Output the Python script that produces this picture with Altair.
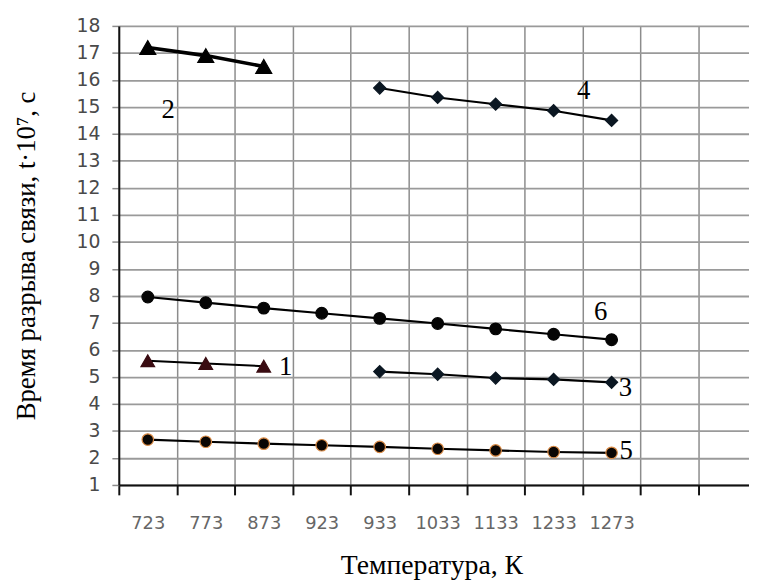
import altair as alt
import pandas as pd

# x categories (temperatures, K) and two empty bands at the right
temps = ["723", "773", "873", "923", "933", "1033", "1133", "1233", "1273"]
extra_bands = ["", ""]

# series values (t·10^7, s)
s1 = [5.6, 5.5, 5.4]                 # from 723
s2 = [17.2, 16.9, 16.5]              # from 723
s3 = [5.2, 5.1, 4.96, 4.91, 4.8]     # from 933
s4 = [15.7, 15.35, 15.1, 14.86, 14.5]  # from 933
s5 = [2.68, 2.6, 2.53, 2.47, 2.41, 2.34, 2.28, 2.22, 2.19]
s6 = [7.96, 7.75, 7.55, 7.36, 7.17, 6.98, 6.78, 6.58, 6.38]

series_names = ["1", "2", "3", "4", "5", "6"]
series_vals = [s1, s2, s3, s4, s5, s6]
series_start = [0, 0, 4, 4, 0, 0]

# curve labels (in data units)
label_text = ["1", "2", "3", "4", "5", "6"]
label_xi = [2.88, 0.85, 8.74, 8.02, 8.75, 8.31]
label_y = [5.38, 14.87, 4.58, 15.6, 2.27, 7.4]

# styles
shapes = ["triangle-up", "triangle-up", "diamond", "diamond", "circle", "circle"]
fills = ["#3a0c12", "#000000", "#0b1722", "#0b1722", "#0a0604", "#050505"]
strokes = ["#3a0c12", "#000000", "#0b1722", "#0b1722", "#d98a45", "#050505"]
msizes = [190, 260, 150, 150, 135, 140]
lwidths = [2, 3.6, 2.2, 2.2, 2.2, 2.2]

labels_all = temps + extra_bands
label_expr = "[" + ",".join("'" + t + "'" for t in labels_all) + "][datum.value]"

x_scale = alt.Scale(domain=[0, 10.87], nice=False, zero=False)
y_scale = alt.Scale(domain=[1, 18], nice=False, zero=False)

x_axis = alt.Axis(
    values=list(range(len(labels_all))),
    labelExpr=label_expr,
    labelOffset=29.3,
    labelAlign="center",
    labelFont="Verdana, DejaVu Sans",
    labelFontSize=18,
    labelColor="#666666",
    labelPadding=20,
    tickSize=10,
    tickWidth=2,
    tickColor="#111111",
    domainColor="#111111",
    domainWidth=2,
    grid=True,
    gridColor="#8c8c8c",
    gridWidth=1.5,
    title="Температура, К",
    titleFont="Liberation Serif",
    titleFontSize=28,
    titleFontWeight="normal",
    titleColor="#000000",
    titleX=316,
    titleY=89,
    titleBaseline="alphabetic",
    titleAlign="center",
)

y_axis = alt.Axis(
    values=list(range(1, 19)),
    labelFont="Verdana, DejaVu Sans",
    labelFontSize=19,
    labelColor="#4a4a4a",
    labelPadding=12,
    tickSize=7,
    tickWidth=1.5,
    tickColor="#8c8c8c",
    domainColor="#111111",
    domainWidth=2,
    grid=True,
    gridColor="#9a9a9a",
    gridWidth=1.8,
    title="Время разрыва связи, t·10⁷, с",
    titleFont="Liberation Serif",
    titleFontSize=27,
    titleFontWeight="normal",
    titleColor="#000000",
    titleAngle=270,
    titleX=-85,
    titleY=232,
    titleBaseline="alphabetic",
    titleAlign="center",
)

layers = []
for k, name in enumerate(series_names):
    vals = series_vals[k]
    st = series_start[k]
    df = pd.DataFrame({
        "xi": [st + i + 0.5 for i in range(len(vals))],
        "t": vals,
        "temp": temps[st:st + len(vals)],
    })
    base = alt.Chart(df).encode(
        x=alt.X("xi:Q", scale=x_scale, axis=x_axis),
        y=alt.Y("t:Q", scale=y_scale, axis=y_axis),
    )
    layers.append(base.mark_line(color="#000000", strokeWidth=lwidths[k]))
    layers.append(base.mark_point(
        shape=shapes[k], filled=True, fill=fills[k], stroke=strokes[k],
        strokeWidth=1.2, size=msizes[k], opacity=1,
    ))

lab_df = pd.DataFrame({"xi": label_xi, "t": label_y, "txt": label_text})
layers.append(
    alt.Chart(lab_df).mark_text(
        font="Liberation Serif", fontSize=27, color="#000000",
        align="center", baseline="middle",
    ).encode(
        x=alt.X("xi:Q", scale=x_scale, axis=x_axis),
        y=alt.Y("t:Q", scale=y_scale, axis=y_axis),
        text="txt:N",
    )
)

chart = alt.layer(*layers).properties(
    width=637,
    height=464,
    padding={"left": 112, "top": 15, "right": 0, "bottom": 97},
    autosize=alt.AutoSizeParams(type="none"),
    background="#ffffff",
).configure_view(stroke=None)

chart.save("out.html", embed_options={"renderer": "svg", "actions": False})
